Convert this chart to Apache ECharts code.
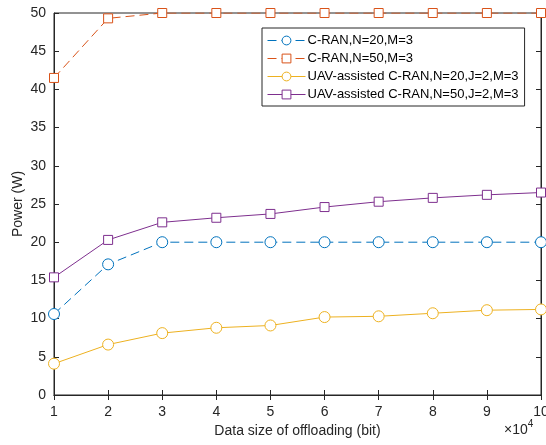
<!DOCTYPE html>
<html lang="en">
<head>
    <meta charset="UTF-8">
    <title>Power vs data size</title>
    <style>
        html, body { margin: 0; padding: 0; background: #fff; }
        #chart { width: 546px; height: 445px; }
    </style>
</head>
<body>
<div id="chart"></div>
<script src="https://cdn.jsdelivr.net/npm/echarts@6/dist/echarts.min.js"></script>
<script>
    // 横轴：数据量 (x10^4 bit)
    var dataSize = [1, 2, 3, 4, 5, 6, 7, 8, 9, 10];
    var yTicks = [0, 5, 10, 15, 20, 25, 30, 35, 40, 45, 50];

    var names = [
        'C-RAN,N=20,M=3',
        'C-RAN,N=50,M=3',
        'UAV-assisted C-RAN,N=20,J=2,M=3',
        'UAV-assisted C-RAN,N=50,J=2,M=3'
    ];
    var cran20 = [10.6, 17.1, 20, 20, 20, 20, 20, 20, 20, 20];
    var cran50 = [41.5, 49.3, 50, 50, 50, 50, 50, 50, 50, 50];
    var uav20 = [4.1, 6.6, 8.1, 8.8, 9.1, 10.2, 10.3, 10.7, 11.1, 11.2];
    var uav50 = [15.4, 20.3, 22.6, 23.2, 23.7, 24.6, 25.3, 25.8, 26.2, 26.5];

    var colors = ['#0072BD', '#D95319', '#EDB120', '#7E2F8E'];
    var axisColor = '#262626';

    function pairs(arr) {
        return arr.map(function (v, i) { return [dataSize[i], v]; });
    }

    function mkSeries(name, data, color, symbol, dashed) {
        return {
            name: name,
            type: 'line',
            data: pairs(data),
            symbol: symbol,
            symbolSize: symbol === 'circle' ? 11 : 9,
            showSymbol: true,
            lineStyle: { color: color, width: 1, type: dashed ? [9, 5] : 'solid' },
            itemStyle: { color: '#fff', borderColor: color, borderWidth: 1 },
            emphasis: { disabled: true },
            animation: false
        };
    }

    var mChart = echarts.init(document.getElementById('chart'));
    var option = {
        animation: false,
        color: colors,
        grid: {
            left: 54, right: 5, top: 13, bottom: 50,
            outerBoundsMode: 'none',
            containLabel: false,
            show: true, borderColor: axisColor, borderWidth: 1
        },
        legend: {
            orient: 'vertical',
            left: 262, top: 28,
            padding: [6, 6, 5, 5],
            itemGap: 5,
            itemWidth: 38,
            itemHeight: 11,
            itemStyle: { borderWidth: 1 },
            lineStyle: { width: 1 },
            backgroundColor: '#fff',
            borderColor: axisColor,
            borderWidth: 1,
            borderRadius: 0,
            textStyle: { fontFamily: 'Liberation Sans', fontSize: 13, color: '#000', padding: [0, 0, 0, -3] },
            data: names
        },
        xAxis: [{
            type: 'value',
            min: 1, max: 10, interval: 1,
            name: 'Data size of offloading (bit)',
            nameLocation: 'middle',
            nameGap: 27,
            nameTextStyle: { fontFamily: 'Liberation Sans', fontSize: 14, color: axisColor },
            axisLine: { show: true, lineStyle: { color: axisColor } },
            axisTick: { show: true, inside: true, length: 5, lineStyle: { color: axisColor } },
            axisLabel: { fontFamily: 'Liberation Sans', fontSize: 14, color: axisColor, margin: 10 },
            splitLine: { show: false }
        }, {
            type: 'value', position: 'top',
            min: 1, max: 10, interval: 1,
            axisLine: { show: true, lineStyle: { color: axisColor } },
            axisTick: { show: true, inside: true, length: 5, lineStyle: { color: axisColor } },
            axisLabel: { show: false },
            splitLine: { show: false }
        }],
        yAxis: [{
            type: 'value',
            min: yTicks[0], max: yTicks[yTicks.length - 1], interval: 5,
            axisLine: { show: true, lineStyle: { color: axisColor } },
            axisTick: { show: true, inside: true, length: 5, lineStyle: { color: axisColor } },
            axisLabel: { fontFamily: 'Liberation Sans', fontSize: 14, color: axisColor, margin: 8 },
            splitLine: { show: false }
        }, {
            type: 'value', position: 'right',
            min: 0, max: 50, interval: 5,
            axisLine: { show: true, lineStyle: { color: axisColor } },
            axisTick: { show: true, inside: true, length: 5, lineStyle: { color: axisColor } },
            axisLabel: { show: false },
            splitLine: { show: false }
        }],
        graphic: [{
            type: 'text',
            x: 18, y: 204,
            rotation: Math.PI / 2,
            style: {
                text: 'Power (W)',
                fontFamily: 'Liberation Sans', fontSize: 14, fill: axisColor,
                align: 'center', verticalAlign: 'middle'
            }
        }, {
            type: 'text',
            left: 504, top: 419,
            style: {
                text: '{a|×10}{b|4}',
                rich: {
                    a: { fontFamily: 'Liberation Sans', fontSize: 14, fill: axisColor, padding: [6, 0, 0, 0] },
                    b: { fontFamily: 'Liberation Sans', fontSize: 10, fill: axisColor, padding: [0, 0, 6, 0] }
                }
            }
        }],
        series: [
            mkSeries(names[0], cran20, colors[0], 'circle', true),
            mkSeries(names[1], cran50, colors[1], 'rect', true),
            mkSeries(names[2], uav20, colors[2], 'circle', false),
            mkSeries(names[3], uav50, colors[3], 'rect', false)
        ]
    };
    mChart.setOption(option);
</script>
</body>
</html>
